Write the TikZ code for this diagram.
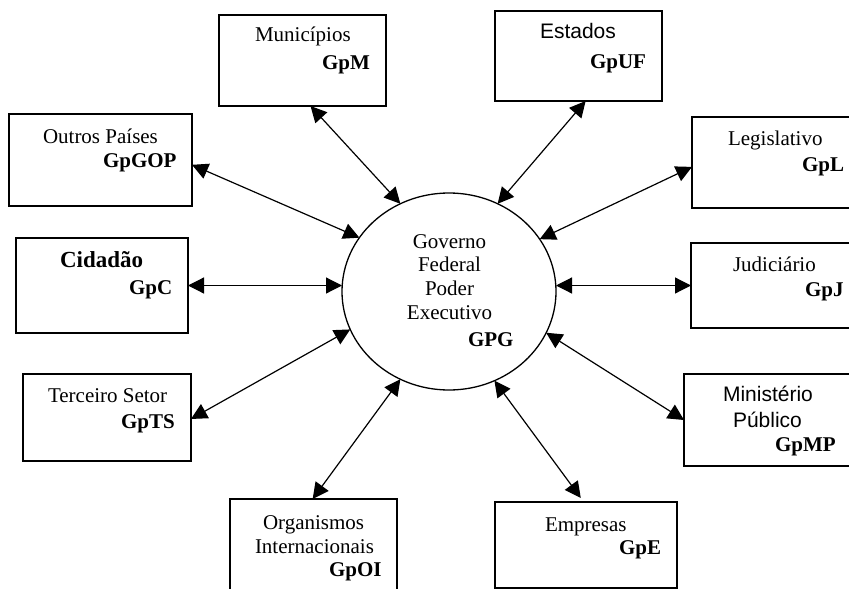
\documentclass[tikz,border=0pt]{standalone}
\usepackage{fontspec}
\setmainfont{Liberation Serif}
\newfontfamily\arialf{Liberation Sans}
\usetikzlibrary{arrows.meta,shapes.geometric}

\begin{document}
\begin{tikzpicture}[x=1pt,y=-1pt,
  box/.style={draw, line width=1.3pt, rectangle, inner sep=0pt, outer sep=0pt},
  hub/.style={draw, line width=1.3pt, ellipse, inner sep=0pt, outer sep=0pt,
              minimum width=214pt, minimum height=197pt},
  txt/.style={inner sep=0pt, outer sep=0pt, anchor=base west, font=\fontsize{21}{24}\selectfont},
  ctr/.style={inner sep=0pt, outer sep=0pt, anchor=base, font=\fontsize{21}{24}\selectfont},
  link/.style={line width=1.2pt, {Triangle[length=16pt,width=16pt]}-{Triangle[length=16pt,width=16pt]}}]

% page area
\fill[white] (0,0) rectangle (849,589);
\useasboundingbox (0,0) rectangle (849,589);

% central node
\node[hub] (gov) at (449,291.5) {};
\node[ctr] (govA) at (449.5,248) {Governo};
\node[ctr] (govB) at (449.5,271) {Federal};
\node[ctr] (govC) at (449.5,295) {Poder};
\node[ctr] (govD) at (449.5,319) {Executivo};
\node[txt] (govE) at (468,346) {\bfseries GPG};

% surrounding boxes
\node[box, minimum width=167pt, minimum height=91pt] (mun) at (302.5,60.5) {};
\node[txt] (munA) at (255,41) {Municípios};
\node[txt] (munB) at (322,69) {\bfseries GpM};

\node[box, minimum width=167pt, minimum height=90pt] (est) at (578.5,56) {};
\node[txt] (estA) at (540,38) {\arialf Estados};
\node[txt] (estB) at (590,68) {\bfseries GpUF};

\node[box, minimum width=183pt, minimum height=92pt] (out) at (100.5,160) {};
\node[txt] (outA) at (43,143) {Outros Países};
\node[txt] (outB) at (103,167) {\bfseries GpGOP};

\node[box, minimum width=172pt, minimum height=95pt] (cid) at (102,285.5) {};
\node[txt, font=\fontsize{23}{26}\selectfont] (cidA) at (60,267) {\bfseries Cidadão};
\node[txt] (cidB) at (129,294) {\bfseries GpC};

\node[box, minimum width=168pt, minimum height=91pt] (leg) at (776,162.5) {};
\node[txt] (legA) at (728,145) {Legislativo};
\node[txt] (legB) at (802,171) {\bfseries GpL};

\node[box, minimum width=169pt, minimum height=85pt] (jud) at (775.5,285.5) {};
\node[txt] (judA) at (733,271) {Judiciário};
\node[txt] (judB) at (805,296) {\bfseries GpJ};

\node[box, minimum width=168pt, minimum height=87pt] (ter) at (107,417.5) {};
\node[txt] (terA) at (48,402) {Terceiro Setor};
\node[txt] (terB) at (121,428) {\bfseries GpTS};

\node[box, minimum width=176pt, minimum height=92pt] (min) at (772,420) {};
\node[txt] (minA) at (723,401) {\arialf Ministério};
\node[txt] (minB) at (733,427) {\arialf Público};
\node[txt] (minC) at (775,451) {\bfseries GpMP};

\node[box, minimum width=167pt, minimum height=96pt] (org) at (313.5,547) {};
\node[txt] (orgA) at (263,529) {Organismos};
\node[txt] (orgB) at (255,553) {Internacionais};
\node[txt] (orgC) at (329,576) {\bfseries GpOI};

\node[box, minimum width=182pt, minimum height=86pt] (emp) at (586,545) {};
\node[txt] (empA) at (545,531) {Empresas};
\node[txt] (empB) at (619,554) {\bfseries GpE};

% two-way links to the centre
\draw[link] (mun.-80.6) -- (gov.119);
\draw[link] (est.-81.8) -- (gov.61.5);
\draw[link] (out.-3.75) -- (gov.149.5);
\draw[link] (leg.183.1) -- (gov.30.2);
\draw[link] (cid.east) -- (cid.east -| gov.west);
\draw[link] (jud.west) -- (jud.west -| gov.east);
\draw[link] (ter.-1.7) -- (gov.201.3);
\draw[link] (min.180) -- (gov.-23.2);
\draw[link] (org.91.7) -- (gov.241.5);
\draw[link, shorten <=5pt] (emp.93.6) -- (gov.-63.1);
\end{tikzpicture}
\end{document}
